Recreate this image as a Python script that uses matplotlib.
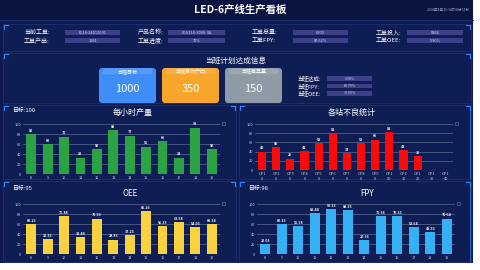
import matplotlib
matplotlib.use("Agg")
import matplotlib.pyplot as plt
from matplotlib.patches import Rectangle, FancyBboxPatch

plt.rcParams['font.family'] = ['Noto Sans CJK SC', 'DejaVu Sans']

# ---- data ----
title = "LED-6产线生产看板"
timestamp = "2024年8月15-9时58分55秒"

info_labels_left = ["当前工单:", "工单产出:", "产品名称:", "工单进度:"]
info_values_left = ["E514-24012001", "1501", "LDU110-3000-3A", "70%"]
info_labels_right = ["工单总量:", "工单FPY:", "工单投入:", "工单OEE:"]
info_values_right = ["6000", "87.62%", "5804", "5.90%"]

plan_title = "当班计划达成信息"
card_labels = ["当班目标", "当班累计产出", "当班差异量"]
card_values = [1000, 350, 150]
shift_labels = ["当班达成:", "当班FPY:", "当班OEE:"]
shift_values = ["6.98%", "80.79%", "79.55%"]

hours = ["8", "9", "10", "11", "12", "13", "14", "15", "16", "17", "18", "19"]
hourly_output = [80, 60, 75, 33, 50, 88, 77, 55, 66, 33, 93, 50]
output_target = 100

stations = ["OP10", "OP20", "OP30", "OP40", "OP50", "OP60", "OP70",
            "OP80", "OP90", "OP100", "OP110", "OP120", "OP130", "OP140"]
station_defects = [40, 50, 25, 42, 58, 81, 37, 59, 66, 83, 43, 30, 0, 0]

oee_values = [60.23, 30.33, 75.88, 33.48, 70.93, 28.83, 37.23, 85.26,
              56.33, 63.54, 54.03, 60.34]
oee_target = 95

fpy_values = [20.03, 60.33, 55.58, 82.44, 90.33, 88.35, 27.36, 75.56,
              76.33, 53.64, 43.33, 70.64]
fpy_target = 98

# ---- styling ----
BG = "#0e1a4f"
HEADER = "#0a1440"
PANEL = "#0f1d55"
EDGE = "#22337a"
BRACKET = "#2f86ff"
VALBOX = "#3b4089"
GRID = "#56648f"
W, H = 480, 270

fig = plt.figure(figsize=(4.8, 2.7), dpi=100, facecolor="white")
bg = fig.add_axes([0, 0, 1, 1])
bg.set_xlim(0, W)
bg.set_ylim(H, 0)
bg.axis("off")

# dashboard canvas
bg.add_patch(Rectangle((0, 0), 473, 263, facecolor=BG, edgecolor="none"))
bg.add_patch(Rectangle((0, 0), 473, 20, facecolor=HEADER, edgecolor="none"))
bg.plot([0, 473], [20, 20], color="#1b2a6a", lw=0.8)

bg.text(240, 10, title, color="white", fontsize=7.5, fontweight="bold",
        ha="center", va="center")
bg.text(470, 10, timestamp, color="#9aa4c8", fontsize=2.6, ha="right",
        va="center")


def panel(x0, y0, x1, y1, right_line=False):
    bg.add_patch(Rectangle((x0, y0), x1 - x0, y1 - y0, facecolor=PANEL,
                           edgecolor=EDGE, lw=0.5))
    L = 4
    bg.plot([x0 + 1, x0 + 1, x0 + 1 + L], [y0 + 1 + L, y0 + 1, y0 + 1],
            color=BRACKET, lw=0.8)
    bg.plot([x1 - 1 - L, x1 - 1, x1 - 1], [y0 + 1, y0 + 1, y0 + 1 + L],
            color=BRACKET, lw=0.8)
    if right_line:
        bg.plot([x1 - 1, x1 - 1], [y0 + 1, y1 - 1], color=BRACKET, lw=0.6,
                alpha=0.8)


panel(3, 24, 471, 51)
panel(3, 53, 471, 103)
panel(3, 105, 236, 179)
panel(239, 105, 471, 179, right_line=True)
panel(3, 181, 236, 262)
panel(239, 181, 471, 262, right_line=True)


def info_row(lx, bx0, bx1, y, label, value):
    bg.text(lx, y, label, color="white", fontsize=4.3, ha="left",
            va="center")
    bg.add_patch(Rectangle((bx0, y - 2.6), bx1 - bx0, 5.2, facecolor=VALBOX,
                           edgecolor="none"))
    bg.text((bx0 + bx1) / 2, y, value, color="#d8dcf0", fontsize=2.8,
            ha="center", va="center")


rows_y = [32.5, 40.5]
for i in range(2):
    info_row(24, 65, 120, rows_y[i], info_labels_left[i], info_values_left[i])
    info_row(138, 168, 225, rows_y[i], info_labels_left[i + 2],
             info_values_left[i + 2])
    info_row(252, 293, 348, rows_y[i], info_labels_right[i],
             info_values_right[i])
    info_row(376, 407, 463, rows_y[i], info_labels_right[i + 2],
             info_values_right[i + 2])

# plan section
bg.text(236, 61, plan_title, color="white", fontsize=5.5, ha="center",
        va="center")
card_x = [99, 162, 225]
card_colors = ["#3f8ef7", "#f7a52b", "#8e9aa6"]
for x0, c, lab, val in zip(card_x, card_colors, card_labels, card_values):
    bg.add_patch(FancyBboxPatch((x0, 68), 57, 35,
                                boxstyle="round,pad=0,rounding_size=3",
                                facecolor=c, edgecolor="none"))
    bg.add_patch(FancyBboxPatch((x0 + 4, 68.5), 49, 5.5,
                                boxstyle="round,pad=0,rounding_size=1.5",
                                facecolor="white", alpha=0.12,
                                edgecolor="white", lw=0.3))
    bg.text(x0 + 28.5, 71.3, lab, color="white", fontsize=3.6, ha="center",
            va="center")
    bg.text(x0 + 28.5, 88.5, str(val), color="white", fontsize=8,
            ha="center", va="center")

for i, (lab, val) in enumerate(zip(shift_labels, shift_values)):
    y = 78.5 + i * 7.5
    bg.text(297, y, lab, color="white", fontsize=4.0, ha="left", va="center")
    bg.add_patch(Rectangle((327, y - 2.4), 45, 4.8, facecolor=VALBOX,
                           edgecolor="none"))
    bg.text(349.5, y, val, color="#d8dcf0", fontsize=2.6, ha="center",
            va="center")


def chart(rect, labels, values, color, fmt, title_txt, title_xy,
          target_txt=None, target_xy=None, bar_w=0.6):
    x0, y0, x1, y1 = rect
    ax = fig.add_axes([x0 / W, 1 - y1 / H, (x1 - x0) / W, (y1 - y0) / H])
    ax.patch.set_alpha(0)
    n = len(labels)
    pos = list(range(n))
    ax.set_ylim(0, 100)
    ax.set_xlim(-0.5, n - 0.5)
    ax.set_yticks([0, 20, 40, 60, 80, 100])
    ax.grid(axis="y", color=GRID, lw=0.6, alpha=0.9)
    ax.set_axisbelow(True)
    ax.bar(pos, values, width=bar_w, color=color, zorder=2)
    for p, v in zip(pos, values):
        if v:
            ax.text(p, v + 2.5, fmt(v), color="white", fontsize=2.6,
                    fontweight="bold", ha="center", va="bottom")
    ax.set_xticks(pos)
    ax.set_xticklabels(labels)
    for s in ax.spines.values():
        s.set_visible(False)
    ax.tick_params(length=0, colors="#c8d0e8", labelsize=2.8, pad=1.5)
    bg.text(title_xy[0], title_xy[1], title_txt, color="white", fontsize=5.8,
            ha="center", va="center")
    if target_txt:
        bg.text(target_xy[0], target_xy[1], target_txt, color="white",
                fontsize=4.2, ha="left", va="center")
    bg.add_patch(Rectangle((x1 + 1.5, y0 - 2), 3, 3, facecolor="none",
                           edgecolor="#6f7aa0", lw=0.4))
    return ax


chart((23, 124, 220, 174), hours, hourly_output, "#2ba244",
      lambda v: f"{v:d}", "每小时产量", (133, 112),
      f"目标:{output_target}", (12, 110))

station_ticks = [s[:3] + "\n" + s[3:] for s in stations]
chart((255, 124, 453, 170), station_ticks, station_defects, "#fb0a0a",
      lambda v: f"{v:d}", "各站不良统计", (352, 112), bar_w=0.58)

chart((23, 204, 220, 254), hours, oee_values, "#f7d23e",
      lambda v: f"{v:.2f}", "OEE", (130, 193),
      f"目标:{oee_target}", (12, 188))

chart((257, 204, 455, 254), hours, fpy_values, "#35b0f5",
      lambda v: f"{v:.2f}", "FPY", (367, 193),
      f"目标:{fpy_target}", (248, 188))

fig.savefig("out.png", dpi=100, facecolor="white")
